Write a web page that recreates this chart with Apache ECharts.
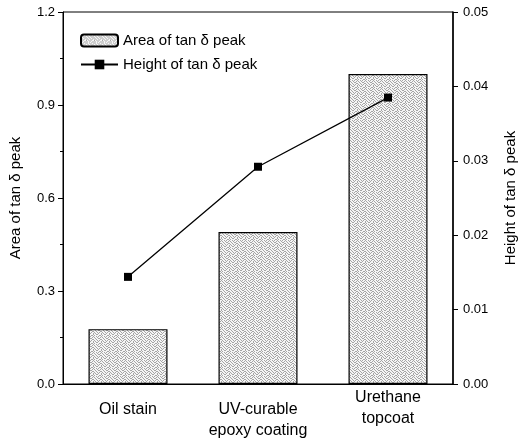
<!DOCTYPE html>
<html>
<head>
<meta charset="utf-8">
<script src="https://cdn.jsdelivr.net/npm/echarts@6/dist/echarts.min.js"></script>
<style>
html,body{margin:0;padding:0;background:#fff;}
#chart{width:526px;height:440px;}
</style>
</head>
<body>
<div id="chart"></div>
<script>
var categories = ['Oil stain', 'UV-curable\nepoxy coating', 'Urethane\ntopcoat'];
var areaValues = [0.177, 0.49, 1.0];
var heightValues = [0.0144, 0.0292, 0.0385];
var leftTicks = [0, 0.3, 0.6, 0.9, 1.2];
var rightTicks = [0, 0.01, 0.02, 0.03, 0.04, 0.05];

function makePattern() {
  var mask = [
    '10100100',
    '01001010',
    '00110001',
    '10001100',
    '01010010',
    '00100101',
    '11000100',
    '00011010'
  ];
  var c = document.createElement('canvas');
  c.width = 8; c.height = 8;
  var ctx = c.getContext('2d');
  ctx.fillStyle = '#f6f6f6';
  ctx.fillRect(0, 0, 8, 8);
  ctx.fillStyle = '#a6a6a6';
  for (var y = 0; y < 8; y++) {
    for (var x = 0; x < 8; x++) {
      if (mask[y][x] === '1') ctx.fillRect(x, y, 1, 1);
    }
  }
  return c;
}

var font = 'Liberation Sans, Arial, Helvetica, sans-serif';
var chart = echarts.init(document.getElementById('chart'), null, {renderer: 'canvas'});
var pattern = {image: makePattern(), repeat: 'repeat'};

chart.setOption({
  animation: false,
  backgroundColor: '#fff',
  textStyle: {fontFamily: font, color: '#000'},
  grid: {left: 62, right: 69, top: 12, bottom: 56, show: true, borderColor: '#000', borderWidth: 1},
  legend: {
    orient: 'vertical', left: 75, top: 28, itemWidth: 37, itemHeight: 12, itemGap: 9,
    textStyle: {fontSize: 15, color: '#000', fontFamily: font},
    data: ['Area of tan δ peak', 'Height of tan δ peak']
  },
  xAxis: {
    type: 'category', data: categories,
    axisLine: {lineStyle: {color: '#000', width: 1}},
    axisTick: {alignWithLabel: true, length: 6, lineStyle: {color: '#000'}},
    axisLabel: {
      interval: 0, margin: 3, color: '#000', fontFamily: font, fontSize: 16, verticalAlign: 'top',
      formatter: function (v, i) {
        var lines = v.split('\n').map(function (l) { return '{t|' + l + '}'; });
        if (i !== 2) lines.unshift('{s| }');
        return lines.join('\n');
      },
      rich: {t: {fontSize: 16, lineHeight: 21, fontFamily: font, color: '#000'}, s: {fontSize: 4, lineHeight: 12}}
    }
  },
  yAxis: [{
    type: 'value', min: leftTicks[0], max: leftTicks[leftTicks.length - 1], interval: 0.3,
    name: 'Area of tan δ peak', nameLocation: 'middle', nameGap: 40,
    nameTextStyle: {fontSize: 15, color: '#000', fontFamily: font},
    axisLine: {show: true, lineStyle: {color: '#000', width: 1}},
    axisTick: {show: true, length: 5, lineStyle: {color: '#000'}},
    minorTick: {show: true, splitNumber: 2, length: 3, lineStyle: {color: '#000'}},
    splitLine: {show: false},
    axisLabel: {margin: 8, fontSize: 13, color: '#000', fontFamily: font,
      formatter: function (v) { return v.toFixed(1); }}
  }, {
    type: 'value', min: rightTicks[0], max: rightTicks[rightTicks.length - 1], interval: 0.01,
    name: 'Height of tan δ peak', nameLocation: 'middle', nameGap: 50,
    nameTextStyle: {fontSize: 15, color: '#000', fontFamily: font},
    position: 'right',
    axisLine: {show: true, lineStyle: {color: '#000', width: 1.5}},
    axisTick: {show: true, length: 5, lineStyle: {color: '#000'}},
    splitLine: {show: false},
    axisLabel: {margin: 10, fontSize: 13, color: '#000', fontFamily: font,
      formatter: function (v) { return v.toFixed(2); }}
  }],
  series: [{
    name: 'Area of tan δ peak', type: 'bar', data: areaValues, barWidth: 79,
    itemStyle: {color: pattern, borderColor: '#000', borderWidth: 1.2}
  }, {
    name: 'Height of tan δ peak', type: 'line', yAxisIndex: 1, data: heightValues,
    symbol: 'rect', symbolSize: 8,
    lineStyle: {color: '#000', width: 1.3},
    itemStyle: {color: '#000'}
  }]
});
</script>
</body>
</html>
